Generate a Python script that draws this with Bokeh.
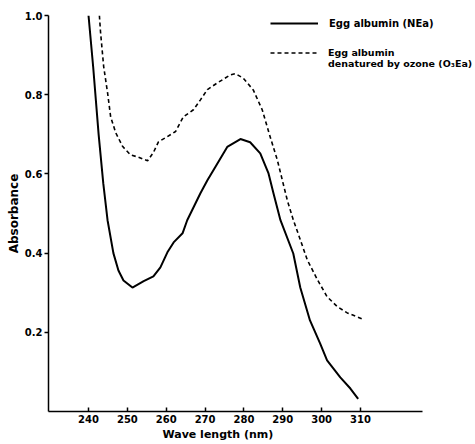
from bokeh.plotting import figure
from bokeh.models import Range1d, FixedTicker, Legend, LegendItem, Title
from bokeh.embed import file_html
from bokeh.resources import INLINE

# Native egg albumin (NEa)
nea_wl = [240.0, 241.2, 242.6, 243.8, 244.9, 246.4, 247.7, 249.0, 251.3, 254.2,
          256.7, 258.5, 260.3, 261.9, 264.2, 265.4, 268.8, 270.6, 272.6, 275.7,
          279.1, 281.6, 284.2, 286.3, 287.6, 289.4, 292.7, 294.5, 297.0, 299.6,
          301.4, 304.8, 307.4, 309.4]
nea_abs = [1.00, 0.87, 0.70, 0.576, 0.483, 0.40, 0.356, 0.331, 0.313, 0.329,
           0.341, 0.364, 0.402, 0.427, 0.45, 0.483, 0.551, 0.584, 0.617, 0.668,
           0.688, 0.680, 0.652, 0.602, 0.551, 0.483, 0.399, 0.313, 0.23, 0.172,
           0.129, 0.086, 0.058, 0.032]

# Egg albumin denatured by ozone (O3Ea)
o3ea_wl = [242.8, 243.1, 243.9, 244.9, 245.7, 247.0, 248.8, 250.8, 252.6, 255.2,
           256.7, 258.0, 260.3, 262.4, 264.4, 267.0, 268.8, 270.6, 273.2, 276.5,
           277.8, 279.8, 282.4, 284.7, 286.8, 288.6, 291.2, 292.7, 294.5, 296.3,
           298.9, 301.4, 304.0, 306.6, 310.4]
o3ea_abs = [1.00, 0.957, 0.871, 0.805, 0.744, 0.704, 0.669, 0.648, 0.643, 0.633,
            0.654, 0.681, 0.694, 0.707, 0.744, 0.762, 0.787, 0.813, 0.830, 0.850,
            0.853, 0.842, 0.812, 0.762, 0.692, 0.635, 0.532, 0.484, 0.434, 0.383,
            0.333, 0.290, 0.265, 0.249, 0.234]

x_ticks = [240, 250, 260, 270, 280, 290, 300, 310]
y_ticks = [0.2, 0.4, 0.6, 0.8, 1.0]
y_tick_labels = ["0.2", "0.4", "0.6", "0.8", "1.0"]
x_title = "Wave length  (nm)"
y_title = "Absorbance"
label_nea = "Egg albumin (NEa)"
label_o3ea_1 = "Egg albumin"
label_o3ea_2 = "denatured by ozone (O\u2083Ea)"

FONT = "DejaVu Sans"

p = figure(width=475, height=444, output_backend="svg", toolbar_location=None,
           x_range=Range1d(229.7, 339.6), y_range=Range1d(0, 1.0),
           min_border_left=48, min_border_right=0, min_border_top=15, min_border_bottom=33)
p.outline_line_color = None
p.xgrid.visible = False
p.ygrid.visible = False
p.background_fill_color = "white"
p.border_fill_color = "white"

r1 = p.line(nea_wl, nea_abs, line_color="black", line_width=2)
r2 = p.line(o3ea_wl, o3ea_abs, line_color="black", line_width=1.6, line_dash="4 3")
r3 = p.line([], [], line_alpha=0)

for ax in (p.xaxis[0], p.yaxis[0]):
    ax.axis_line_color = "black"
    ax.axis_line_width = 1.5
    ax.major_tick_line_color = "black"
    ax.major_tick_line_width = 1.5
    ax.minor_tick_line_color = None
    ax.major_label_text_font = FONT
    ax.major_label_text_font_style = "bold"
    ax.major_label_text_font_size = "10px"
    ax.major_label_text_color = "black"
    ax.axis_label_text_font = FONT
    ax.axis_label_text_font_style = "bold"
    ax.axis_label_text_color = "black"

p.xaxis.bounds = (229.7, 326)
p.xaxis.ticker = FixedTicker(ticks=x_ticks)
p.yaxis.ticker = FixedTicker(ticks=y_ticks)
p.xaxis.major_label_overrides = {t: str(t) for t in x_ticks}
p.yaxis.major_label_overrides = dict(zip(y_ticks, y_tick_labels))
p.xaxis.major_tick_in = 4
p.xaxis.major_tick_out = 0
p.yaxis.major_tick_in = 0
p.yaxis.major_tick_out = 4
p.xaxis.major_label_standoff = 3
p.yaxis.major_label_standoff = 2
p.yaxis.axis_label = y_title
p.yaxis.axis_label_text_font_size = "12px"
p.yaxis.axis_label_standoff = 1

p.add_layout(Title(text=x_title, align="left", offset=114, standoff=0,
                   text_font=FONT, text_font_style="bold", text_font_size="11px",
                   text_color="black"), "below")

def make_legend(items, loc, h, size, standoff):
    lg = Legend(items=items, location=loc, orientation="vertical",
                border_line_color=None, background_fill_alpha=0,
                padding=0, margin=0, spacing=0,
                glyph_width=48, glyph_height=h, label_height=h,
                label_standoff=standoff, label_text_font=FONT,
                label_text_font_style="bold", label_text_font_size=size,
                label_text_color="black")
    p.add_layout(lg, "center")

make_legend([LegendItem(label=label_nea, renderers=[r1])], (222, 382), 12, "10px", 11)
make_legend([LegendItem(label=label_o3ea_1, renderers=[r2]),
             LegendItem(label=label_o3ea_2, renderers=[r3])], (222, 342), 11, "9.5px", 10)

open("out.html", "w").write(file_html(p, INLINE))
